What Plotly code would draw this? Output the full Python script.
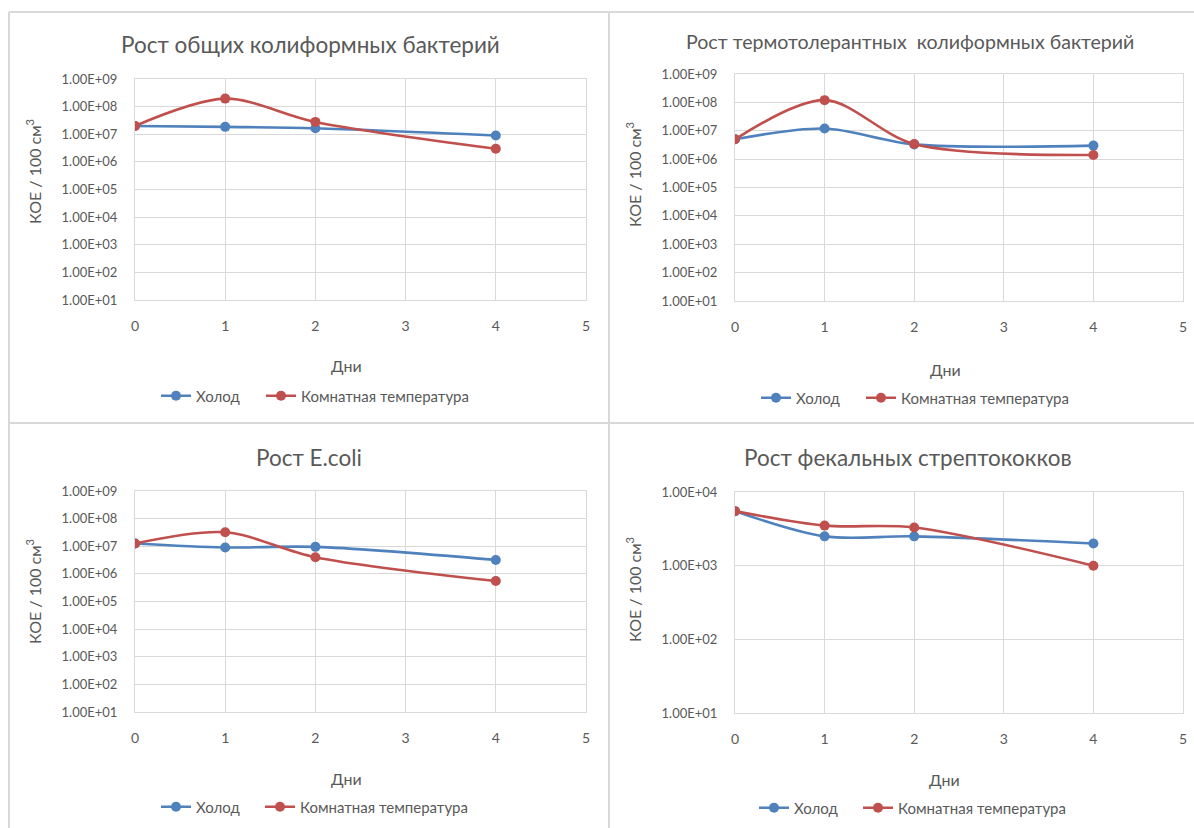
import plotly.graph_objects as go

W, H = 1194, 828

days = [0, 1, 2, 4]

# Panel 1: total coliforms
tc_cold = [2.0e7, 1.85e7, 1.65e7, 9.0e6]
tc_room = [2.0e7, 1.95e8, 2.8e7, 3.0e6]
# Panel 2: thermotolerant coliforms
ttc_cold = [5.0e6, 1.2e7, 3.3e6, 3.0e6]
ttc_room = [5.0e6, 1.2e8, 3.4e6, 1.4e6]
# Panel 3: E.coli
ec_cold = [1.25e7, 9.0e6, 9.5e6, 3.2e6]
ec_room = [1.25e7, 3.2e7, 4.0e6, 5.5e5]
# Panel 4: faecal streptococci
fs_cold = [5.5e3, 2.5e3, 2.5e3, 2.0e3]
fs_room = [5.5e3, 3.5e3, 3.3e3, 1.0e3]

titles = ["Рост общих колиформных бактерий",
          "Рост термотолерантных  колиформных бактерий",
          "Рост E.coli",
          "Рост фекальных стрептококков"]
series_names = ["Холод", "Комнатная температура"]
x_title = "Дни"
y_title = "КОЕ / 100 см<sup>3</sup>"

x_ticks = [0, 1, 2, 3, 4, 5]
y_tickvals_big = [1e1, 1e2, 1e3, 1e4, 1e5, 1e6, 1e7, 1e8, 1e9]
y_ticktext_big = ["1.00E+01", "1.00E+02", "1.00E+03", "1.00E+04", "1.00E+05",
                  "1.00E+06", "1.00E+07", "1.00E+08", "1.00E+09"]
y_tickvals_small = [1e1, 1e2, 1e3, 1e4]
y_ticktext_small = ["1.00E+01", "1.00E+02", "1.00E+03", "1.00E+04"]

BLUE = "#4F81BD"
RED = "#C0504D"
GRID = "#D9D9D9"
TXT = "#595959"
FONT = "Lato, Roboto, 'Noto Sans', sans-serif"

# pixel geometry of each panel
panels = [
    dict(data=(tc_cold, tc_room), px=(135, 586), py=(79, 300), title=(310, 44, 22.5),
         xt=(346, 366), yt=(33, 172), leg=((197, 302), 396), small=False),
    dict(data=(ttc_cold, ttc_room), px=(735, 1183), py=(74, 301), title=(910, 41, 19.6),
         xt=(946, 369), yt=(633, 175), leg=((797, 902), 398), small=False),
    dict(data=(ec_cold, ec_room), px=(135, 586), py=(491, 712), title=(309, 457, 22.5),
         xt=(346, 778), yt=(33, 592), leg=((197, 301), 807), small=False),
    dict(data=(fs_cold, fs_room), px=(735, 1183), py=(492, 713), title=(908, 457, 22.5),
         xt=(944, 779), yt=(633, 590), leg=((795, 899), 808), small=True),
]

LEG_TEXT_OFFSET = 41  # px from legend left edge to its label text

fig = go.Figure()
layout = dict(width=W, height=H, margin=dict(l=0, r=0, t=0, b=0, pad=0, autoexpand=False),
              paper_bgcolor="white", plot_bgcolor="white",
              font=dict(family=FONT, color=TXT, size=14),
              showlegend=True, annotations=[], shapes=[])

leg_idx = 0
for i, p in enumerate(panels):
    n = i + 1
    xa = "x" if n == 1 else f"x{n}"
    ya = "y" if n == 1 else f"y{n}"
    cold, room = p["data"]
    (tx_blue, tx_red), ly = p["leg"]
    for name, vals, col, txx in [(series_names[0], cold, BLUE, tx_blue),
                                 (series_names[1], room, RED, tx_red)]:
        leg_idx += 1
        leg = "legend" if leg_idx == 1 else f"legend{leg_idx}"
        fig.add_trace(go.Scatter(
            x=days, y=vals, name=name, mode="lines+markers",
            line=dict(color=col, width=2.6, shape="spline", smoothing=0.9),
            marker=dict(color=col, size=10),
            xaxis=xa, yaxis=ya, legend=leg))
        layout[leg] = dict(orientation="h", x=(txx - LEG_TEXT_OFFSET) / W, y=1 - ly / H,
                           xanchor="left", yanchor="middle",
                           bgcolor="rgba(0,0,0,0)", font=dict(size=15, color=TXT),
                           itemwidth=30, tracegroupgap=0)
    x0, x1 = p["px"]
    yt, yb = p["py"]
    ax_x = dict(domain=[x0 / W, x1 / W], range=[0, 5], tickvals=x_ticks,
                showgrid=True, gridcolor=GRID, gridwidth=1, zeroline=False,
                showline=True, linecolor=GRID, mirror=True, automargin=False,
                ticks="", ticklabelstandoff=13, anchor=ya,
                tickfont=dict(size=14, color=TXT), fixedrange=True)
    if p["small"]:
        tv, tt, rng = y_tickvals_small, y_ticktext_small, [1, 4]
    else:
        tv, tt, rng = y_tickvals_big, y_ticktext_big, [1, 9]
    ax_y = dict(domain=[1 - yb / H, 1 - yt / H], type="log", range=rng,
                tickvals=tv, ticktext=tt,
                showgrid=True, gridcolor=GRID, gridwidth=1, zeroline=False,
                showline=True, linecolor=GRID, mirror=True, automargin=False,
                ticks="", ticklabelstandoff=14, anchor=xa,
                tickfont=dict(size=13, color=TXT), fixedrange=True)
    layout["xaxis" if n == 1 else f"xaxis{n}"] = ax_x
    layout["yaxis" if n == 1 else f"yaxis{n}"] = ax_y

    tx, ty, ts = p["title"]
    layout["annotations"].append(dict(
        text=titles[i], x=tx / W, y=1 - ty / H, xref="paper", yref="paper",
        xanchor="center", yanchor="middle", showarrow=False,
        font=dict(size=ts, color=TXT, family=FONT)))
    ax, ay = p["xt"]
    layout["annotations"].append(dict(
        text=x_title, x=ax / W, y=1 - ay / H, xref="paper", yref="paper",
        xanchor="center", yanchor="middle", showarrow=False,
        font=dict(size=16, color=TXT, family=FONT)))
    bx, by = p["yt"]
    layout["annotations"].append(dict(
        text=y_title, x=bx / W, y=1 - by / H, xref="paper", yref="paper",
        xanchor="center", yanchor="middle", showarrow=False, textangle=-90,
        font=dict(size=16, color=TXT, family=FONT)))

# panel borders
border = dict(type="line", xref="paper", yref="paper",
              line=dict(color="#D9D9D9", width=2))
for (xa0, ya0, xa1, ya1) in [(9, 12, 1194, 12), (9, 12, 9, 828), (609, 12, 609, 828),
                             (9, 423, 1194, 423)]:
    s = dict(border)
    s.update(x0=xa0 / W, x1=xa1 / W, y0=1 - ya0 / H, y1=1 - ya1 / H)
    layout["shapes"].append(s)

fig.update_layout(**layout)
fig.write_html("out.html")
